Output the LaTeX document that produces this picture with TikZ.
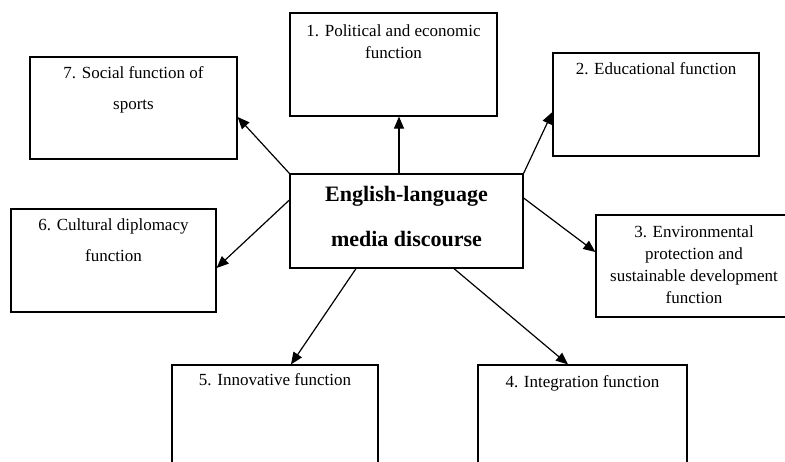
\documentclass[tikz,border=0pt]{standalone}
\usepackage{fontspec}
\setmainfont{Liberation Serif}
\usetikzlibrary{arrows.meta,positioning}

\tikzset{
  box/.style={draw, line width=1.2pt, minimum width=206pt, minimum height=103pt, inner sep=0pt},
  txt/.style={align=center, inner sep=0pt, font=\fontsize{17}{22}\selectfont},
  arr/.style={line width=1.2pt, -{Triangle[length=12pt,width=10pt]}}
}

\begin{document}
\begin{tikzpicture}[x=1pt,y=-1pt]
      \useasboundingbox (0,0) rectangle (785,461);
      \clip (0,0) rectangle (785,461);
      % boxes
      \node[box, minimum width=233pt, minimum height=94pt] (c) at (406.5,221) {};
      \node[box, minimum width=207pt] (f1) at (393.5,64.5) {};
      \node[box] (f2) at (656,104.5) {};
      \node[box, minimum width=196pt, minimum height=102pt] (f3) at (694,266) {};
      \node[box, minimum width=209pt] (f4) at (582.5,416.5) {};
      \node[box] (f5) at (275,416.5) {};
      \node[box, minimum width=205pt] (f6) at (113.5,260.5) {};
      \node[box, minimum width=207pt, minimum height=102pt] (f7) at (133.5,108) {};
      % texts
      \node[txt, font=\fontsize{22}{45}\selectfont\bfseries, below=13pt of c.north] (tc) {English-language\\media discourse};
      \node[txt, below=12pt of f1.north] (t1) {1. Political and economic\\function};
      \node[txt, below=10pt of f2.north] (t2) {2. Educational function};
      \node[txt, below=11pt of f3.north] (t3) {3. Environmental\\protection and\\sustainable development\\function};
      \node[txt, below=11pt of f4.north] (t4) {4. Integration function};
      \node[txt, below=9pt of f5.north] (t5) {5. Innovative function};
      \node[txt, font=\fontsize{17}{31}\selectfont, below=10pt of f6.north] (t6) {6. Cultural diplomacy\\function};
      \node[txt, font=\fontsize{17}{31}\selectfont, below=10pt of f7.north] (t7) {7. Social function of\\sports};
      % arrows
      \draw[arr] ([xshift=-7.5pt]c.north) -- ([xshift=-7.5pt]c.north |- f1.south);
      \draw[arr] (c.north east) -- ([yshift=-7.5pt]f2.west);
      \draw[arr] ([yshift=23pt]c.east) -- ([yshift=14pt]f3.west);
      \draw[arr] ([xshift=47.5pt]c.south) -- ([xshift=-14.5pt]f4.north);
      \draw[arr] ([xshift=-50.5pt]c.south) -- ([xshift=16pt]f5.north);
      \draw[arr] ([yshift=21pt]c.west) -- ([yshift=-7.5pt]f6.east);
      \draw[arr] (c.north west) -- ([yshift=-9pt]f7.east);
\end{tikzpicture}
\end{document}
